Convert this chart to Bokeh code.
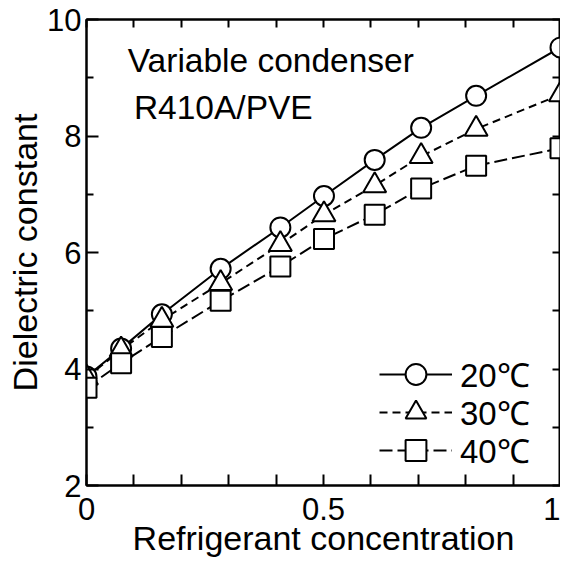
from bokeh.plotting import figure
from bokeh.models import Range1d, LinearAxis, FixedTicker, Legend, LegendItem, Label
from bokeh.embed import file_html
from bokeh.resources import INLINE

# ---- data ----
conc = [0.0, 0.073, 0.159, 0.283, 0.409, 0.501, 0.608, 0.706, 0.822, 1.0]
eps_20 = [3.87, 4.35, 4.94, 5.72, 6.43, 6.97, 7.59, 8.14, 8.69, 9.52]
eps_30 = [3.85, 4.33, 4.84, 5.47, 6.14, 6.65, 7.15, 7.65, 8.12, 8.71]
eps_40 = [3.68, 4.10, 4.55, 5.17, 5.76, 6.23, 6.65, 7.10, 7.49, 7.79]
series_labels = ["20℃", "30℃", "40℃"]
x_ticks = [i / 10 for i in range(11)]
x_tick_labels = {0.0: "0", 0.5: "0.5", 1.0: "1"}
y_major = [2, 4, 6, 8, 10]
y_minor = [3, 5, 7, 9]
y_all = [2, 3, 4, 5, 6, 7, 8, 9, 10]

FONT = "Liberation Sans"

p = figure(width=560, height=559, output_backend="svg", toolbar_location=None,
           x_range=Range1d(0, 1), y_range=Range1d(2, 10),
           min_border_left=86, min_border_right=0, min_border_top=19,
           min_border_bottom=68)
p.grid.visible = False
p.outline_line_color = "black"
p.outline_line_width = 2
p.background_fill_color = "white"
p.border_fill_color = "white"

# bottom axis
xa = p.xaxis[0]
xa.ticker = FixedTicker(ticks=x_ticks, minor_ticks=[])
overrides = {v: "" for v in x_ticks}
overrides.update(x_tick_labels)
xa.major_label_overrides = overrides
xa.major_tick_in = 11
xa.major_tick_out = 0
xa.minor_tick_in = 0
xa.minor_tick_out = 0
xa.axis_line_width = 2
xa.major_tick_line_width = 2
xa.major_label_text_font = FONT
xa.major_label_text_font_size = "31px"
xa.major_label_text_color = "black"
xa.major_label_standoff = 12
xa.axis_label = "Refrigerant concentration"
xa.axis_label_text_font = FONT
xa.axis_label_text_font_size = "34px"
xa.axis_label_text_font_style = "normal"
xa.axis_label_text_color = "black"
xa.axis_label_standoff = -4

# left axis
ya = p.yaxis[0]
ya.ticker = FixedTicker(ticks=y_major, minor_ticks=y_minor)
ya.major_tick_in = 12
ya.major_tick_out = 0
ya.minor_tick_in = 7
ya.minor_tick_out = 0
ya.axis_line_width = 2
ya.major_tick_line_width = 2
ya.minor_tick_line_width = 2
ya.minor_tick_line_color = "black"
ya.major_label_text_font = FONT
ya.major_label_text_font_size = "31px"
ya.major_label_text_color = "black"
ya.major_label_standoff = 5
ya.axis_label = "Dielectric constant"
ya.axis_label_text_font = FONT
ya.axis_label_text_font_size = "34px"
ya.axis_label_text_font_style = "normal"
ya.axis_label_text_color = "black"
ya.axis_label_standoff = 0

# top and right axes: inward ticks only
top = LinearAxis(ticker=FixedTicker(ticks=x_ticks, minor_ticks=[]),
                 major_tick_in=8, major_tick_out=0, minor_tick_in=0, minor_tick_out=0,
                 axis_line_width=2, major_tick_line_width=2,
                 major_label_text_font_size="0px", major_label_standoff=0,
                 axis_label_standoff=0,
                 major_label_overrides={v: "" for v in x_ticks})
p.add_layout(top, "above")
right = LinearAxis(ticker=FixedTicker(ticks=y_all, minor_ticks=[]),
                   major_tick_in=8, major_tick_out=0, minor_tick_in=0, minor_tick_out=0,
                   axis_line_width=2, major_tick_line_width=2,
                   major_label_text_font_size="0px", major_label_standoff=0,
                   axis_label_standoff=0,
                   major_label_overrides={v: "" for v in y_all})
p.add_layout(right, "right")

# lines
l20 = p.line(conc, eps_20, line_color="black", line_width=2)
l30 = p.line(conc, eps_30, line_color="black", line_width=2, line_dash="8 5")
l40 = p.line(conc, eps_40, line_color="black", line_width=2, line_dash="13 5")

# markers
s20 = p.scatter(conc, eps_20, marker="circle", size=20, fill_color="white",
                line_color="black", line_width=2)
s30 = p.scatter(conc, eps_30, marker="triangle", size=23, fill_color="white",
                line_color="black", line_width=2)
s40 = p.scatter(conc, eps_40, marker="square", size=20, fill_color="white",
                line_color="black", line_width=2)

# one legend per entry, so that the rows can sit closer than the glyph box
for lab, rends, vy in zip(series_labels, [[l20, s20], [l30, s30], [l40, s40]], [85, 47, 9]):
    lg = Legend(items=[LegendItem(label=lab, renderers=rends)],
                location=(293, vy), glyph_width=73, glyph_height=52, spacing=0,
                padding=0, margin=0, label_standoff=8, border_line_color=None,
                background_fill_alpha=0, label_text_font=FONT,
                label_text_font_size="33px", label_text_color="black",
                label_height=52)
    p.add_layout(lg)

p.add_layout(Label(x=0.087, y=9.29, text="Variable condenser", text_baseline="middle",
                   text_font=FONT, text_font_size="33.5px", text_color="black"))
p.add_layout(Label(x=0.100, y=8.49, text="R410A/PVE", text_baseline="middle",
                   text_font=FONT, text_font_size="33.5px", text_color="black"))

open("out.html", "w").write(file_html(p, INLINE))
